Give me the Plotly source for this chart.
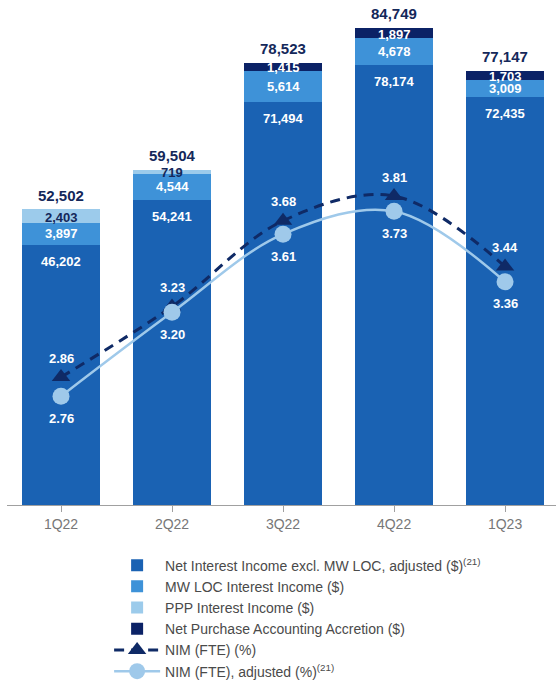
import plotly.graph_objects as go

categories = ["1Q22", "2Q22", "3Q22", "4Q22", "1Q23"]
nii_excl = [46202, 54241, 71494, 78174, 72435]
mw_loc = [3897, 4544, 5614, 4678, 3009]
ppp = [2403, 719, 0, 0, 0]
accretion = [0, 0, 1415, 1897, 1703]
totals = [52502, 59504, 78523, 84749, 77147]
nim = [2.86, 3.23, 3.68, 3.81, 3.44]
nim_adj = [2.76, 3.20, 3.61, 3.73, 3.36]

C_MAIN = "#1a62b3"
C_MW = "#3e92d8"
C_PPP = "#9ccbeb"
C_ACC = "#0b2266"
C_NIM = "#0f2a66"
C_NIMADJ = "#9fc9ea"
NAVY_TXT = "#14285a"
FONT = "Liberation Sans, Arial, sans-serif"

fig = go.Figure()
fig.add_bar(x=categories, y=nii_excl, marker_color=C_MAIN, marker_line_width=0,
            name="Net Interest Income excl. MW LOC, adjusted ($)<sup>(21)</sup>")
fig.add_bar(x=categories, y=mw_loc, marker_color=C_MW, marker_line_width=0,
            name="MW LOC Interest Income ($)")
fig.add_bar(x=categories, y=ppp, marker_color=C_PPP, marker_line_width=0,
            name="PPP Interest Income ($)")
fig.add_bar(x=categories, y=accretion, marker_color=C_ACC, marker_line_width=0,
            name="Net Purchase Accounting Accretion ($)")

fig.add_scatter(x=categories, y=nim, yaxis="y2", mode="lines+markers",
                line=dict(color=C_NIM, width=3, dash="10px,7px", shape="spline"),
                marker=dict(symbol="triangle-up", size=16, color=C_NIM),
                name="NIM (FTE) (%)")
fig.add_scatter(x=categories, y=nim_adj, yaxis="y2", mode="lines+markers",
                line=dict(color=C_NIMADJ, width=2.5, shape="spline"),
                marker=dict(symbol="circle", size=17, color=C_NIMADJ),
                name="NIM (FTE), adjusted (%)<sup>(21)</sup>")

ann = []
def fmt(v):
    return f"{v:,}"

for i, c in enumerate(categories):
    ann.append(dict(x=c, y=totals[i], text=f"<b>{fmt(totals[i])}</b>", showarrow=False,
                    yshift=14, font=dict(size=15, color=NAVY_TXT, family=FONT)))
    ann.append(dict(x=c, y=nii_excl[i], text=f"<b>{fmt(nii_excl[i])}</b>", showarrow=False,
                    yanchor="top", yshift=-7, font=dict(size=13, color="white", family=FONT)))
    ann.append(dict(x=c, y=nii_excl[i] + mw_loc[i] / 2, text=f"<b>{fmt(mw_loc[i])}</b>",
                    showarrow=False, font=dict(size=13, color="white", family=FONT)))
    base = nii_excl[i] + mw_loc[i]
    if ppp[i]:
        ann.append(dict(x=c, y=base + ppp[i] / 2, text=f"<b>{fmt(ppp[i])}</b>",
                        showarrow=False, yshift=-1,
                        font=dict(size=13, color=NAVY_TXT, family=FONT)))
        base += ppp[i]
    if accretion[i]:
        ann.append(dict(x=c, y=base + accretion[i] / 2, text=f"<b>{fmt(accretion[i])}</b>",
                        showarrow=False, yshift=-1,
                        font=dict(size=13, color="white", family=FONT)))
    ann.append(dict(x=c, y=nim[i], yref="y2", text=f"<b>{nim[i]:.2f}</b>", showarrow=False,
                    yshift=19, font=dict(size=13, color="white", family=FONT)))
    ann.append(dict(x=c, y=nim_adj[i], yref="y2", text=f"<b>{nim_adj[i]:.2f}</b>", showarrow=False,
                    yshift=-22, font=dict(size=13, color="white", family=FONT)))

fig.update_layout(
    width=556, height=688,
    margin=dict(l=7, r=0, t=10, b=178),
    paper_bgcolor="white", plot_bgcolor="white",
    barmode="stack", bargap=0.29,
    font=dict(family=FONT),
    showlegend=True,
    legend=dict(orientation="v", traceorder="normal", x=0.186, xanchor="left",
                y=-0.09, yanchor="top", font=dict(size=14, color="#4a4a4a", family=FONT),
                itemwidth=46, bgcolor="rgba(0,0,0,0)"),
    xaxis=dict(range=[-0.4865, 4.459], showline=True, linecolor="#a0a0a0", linewidth=1,
               ticks="outside", ticklen=6, tickcolor="#a0a0a0",
               tickfont=dict(size=14, color="#777777", family=FONT), showgrid=False),
    yaxis=dict(range=[0, 87900], visible=False, showgrid=False),
    yaxis2=dict(range=[2.189, 4.786], overlaying="y", visible=False, showgrid=False),
    annotations=ann,
)

fig.write_html("out.html", config={"displayModeBar": False},
               post_script="document.body.style.margin='0';")
